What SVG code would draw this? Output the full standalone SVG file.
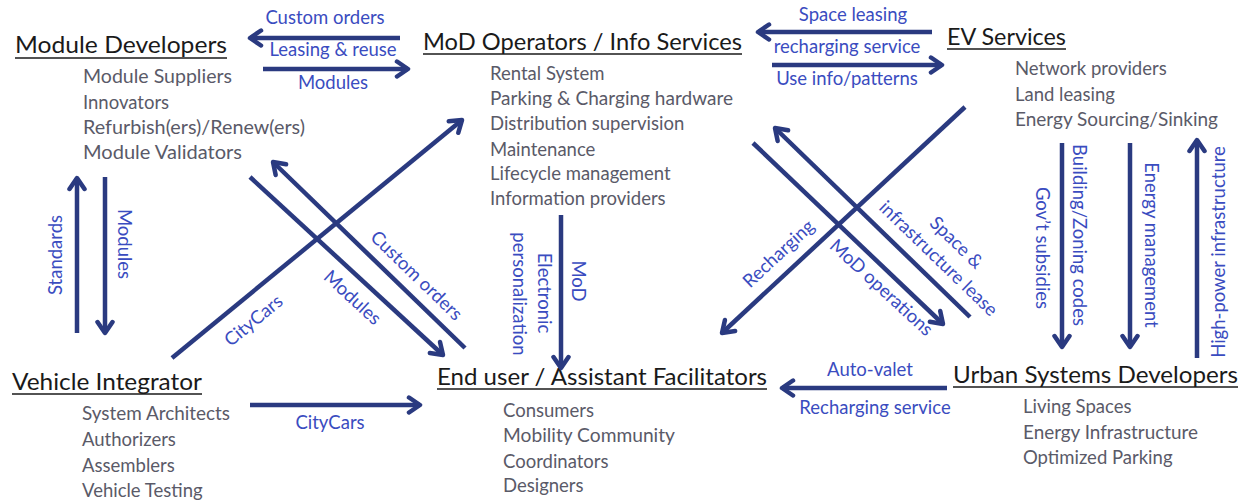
<svg xmlns="http://www.w3.org/2000/svg" width="1248" height="502" viewBox="0 0 1248 502">
<style>
.t{font-family:Lato,"Open Sans","Liberation Sans",sans-serif;font-size:24px;fill:#1a1a1a}
.ul{stroke:#1a1a1a;stroke-width:1.6}
.li{font-family:Lato,"Open Sans","Liberation Sans",sans-serif;font-size:18.5px;fill:#5a5a68}
.lb{font-family:Lato,"Open Sans","Liberation Sans",sans-serif;font-size:18.5px;fill:#3a4cc0}
.c{dominant-baseline:central;text-anchor:middle}
.m{text-anchor:middle}
.ar{stroke:#2a3a80;stroke-width:4.5;fill:none;marker-end:url(#ah)}
</style>
<defs>
<marker id="ah" viewBox="0 0 20 20" refX="17" refY="10" markerWidth="20" markerHeight="20" orient="auto" markerUnits="userSpaceOnUse">
<path d="M6,2.5 L17,10 L6,17.5" fill="none" stroke="#2a3a80" stroke-width="4.5" stroke-linecap="round" stroke-linejoin="round"/>
</marker>
</defs>
<rect width="1248" height="502" fill="#ffffff"/>

<g id="module-developers">
<text class="t" x="15" y="53" textLength="212" lengthAdjust="spacingAndGlyphs">Module Developers</text>
<line class="ul" x1="15" y1="58" x2="227" y2="58"/>
<text class="li" x="83" y="83" textLength="149" lengthAdjust="spacingAndGlyphs">Module Suppliers</text>
<text class="li" x="83" y="109">Innovators</text>
<text class="li" x="83" y="134" textLength="222" lengthAdjust="spacingAndGlyphs">Refurbish(ers)/Renew(ers)</text>
<text class="li" x="83" y="159" textLength="159" lengthAdjust="spacingAndGlyphs">Module Validators</text>
</g>

<g id="mod-operators">
<text class="t" x="423" y="50" textLength="319" lengthAdjust="spacingAndGlyphs">MoD Operators / Info Services</text>
<line class="ul" x1="423" y1="54" x2="742" y2="54"/>
<text class="li" x="490" y="80">Rental System</text>
<text class="li" x="490" y="105" textLength="243" lengthAdjust="spacingAndGlyphs">Parking &amp; Charging hardware</text>
<text class="li" x="490" y="130">Distribution supervision</text>
<text class="li" x="490" y="156">Maintenance</text>
<text class="li" x="490" y="180">Lifecycle management</text>
<text class="li" x="490" y="205">Information providers</text>
</g>

<g id="ev-services">
<text class="t" x="947" y="45" textLength="119" lengthAdjust="spacingAndGlyphs">EV Services</text>
<line class="ul" x1="947" y1="49" x2="1066" y2="49"/>
<text class="li" x="1015" y="75">Network providers</text>
<text class="li" x="1015" y="101">Land leasing</text>
<text class="li" x="1015" y="126" textLength="203" lengthAdjust="spacingAndGlyphs">Energy Sourcing/Sinking</text>
</g>

<g id="vehicle-integrator">
<text class="t" x="12" y="390" textLength="190" lengthAdjust="spacingAndGlyphs">Vehicle Integrator</text>
<line class="ul" x1="12" y1="394" x2="202" y2="394"/>
<text class="li" x="82" y="420" textLength="148" lengthAdjust="spacingAndGlyphs">System Architects</text>
<text class="li" x="82" y="446">Authorizers</text>
<text class="li" x="82" y="472">Assemblers</text>
<text class="li" x="82" y="497">Vehicle Testing</text>
</g>

<g id="end-user">
<text class="t" x="437" y="385" textLength="330" lengthAdjust="spacingAndGlyphs">End user / Assistant  Facilitators</text>
<line class="ul" x1="437" y1="389" x2="767" y2="389"/>
<text class="li" x="503" y="417">Consumers</text>
<text class="li" x="503" y="442" textLength="172" lengthAdjust="spacingAndGlyphs">Mobility Community</text>
<text class="li" x="503" y="468">Coordinators</text>
<text class="li" x="503" y="492">Designers</text>
</g>

<g id="urban-systems">
<text class="t" x="953" y="383" textLength="285" lengthAdjust="spacingAndGlyphs">Urban Systems Developers</text>
<line class="ul" x1="953" y1="387" x2="1238" y2="387"/>
<text class="li" x="1023" y="413">Living Spaces</text>
<text class="li" x="1023" y="439" textLength="175" lengthAdjust="spacingAndGlyphs">Energy Infrastructure</text>
<text class="li" x="1023" y="464">Optimized Parking</text>
</g>

<g id="connectors">
<line class="ar" x1="400" y1="38" x2="250" y2="38"/>
<line class="ar" x1="263" y1="69" x2="408" y2="69"/>
<line class="ar" x1="932" y1="32" x2="758" y2="32"/>
<line class="ar" x1="772" y1="65" x2="942" y2="65"/>
<line class="ar" x1="77" y1="333" x2="77" y2="178"/>
<line class="ar" x1="105" y1="177" x2="105" y2="333"/>
<line class="ar" x1="561" y1="215" x2="561" y2="368"/>
<line class="ar" x1="172" y1="358" x2="462" y2="120"/>
<line class="ar" x1="250" y1="177" x2="443" y2="355"/>
<line class="ar" x1="465" y1="348" x2="273" y2="162"/>
<line class="ar" x1="965" y1="107" x2="722" y2="333"/>
<line class="ar" x1="753" y1="143" x2="943" y2="324"/>
<line class="ar" x1="970" y1="317" x2="775" y2="128"/>
<line class="ar" x1="1062" y1="143" x2="1062" y2="347"/>
<line class="ar" x1="1130" y1="143" x2="1130" y2="347"/>
<line class="ar" x1="1197" y1="358" x2="1197" y2="140"/>
<line class="ar" x1="250" y1="405" x2="420" y2="405"/>
<line class="ar" x1="947" y1="388" x2="782" y2="388"/>

<text class="lb m" x="325" y="24">Custom orders</text>
<text class="lb m" x="333" y="56">Leasing &amp; reuse</text>
<text class="lb m" x="333" y="89">Modules</text>
<text class="lb m" x="853" y="21">Space leasing</text>
<text class="lb m" x="847" y="53">recharging service</text>
<text class="lb m" x="847" y="85">Use info/patterns</text>
<text class="lb m" x="330" y="429">CityCars</text>
<text class="lb m" x="870" y="376">Auto-valet</text>
<text class="lb m" x="875" y="414">Recharging service</text>

<text class="lb c" transform="translate(55,255) rotate(-90)">Standards</text>
<text class="lb c" transform="translate(125,244) rotate(90)">Modules</text>
<text class="lb c" transform="translate(579,281) rotate(90)">MoD</text>
<text class="lb c" transform="translate(545,293) rotate(90)">Electronic</text>
<text class="lb c" transform="translate(520,294) rotate(90)">personalization</text>
<text class="lb c" transform="translate(1080,235) rotate(90)">Building/Zoning codes</text>
<text class="lb c" transform="translate(1043,248) rotate(90)">Gov’t subsidies</text>
<text class="lb c" transform="translate(1152,245) rotate(90)">Energy management</text>
<text class="lb c" transform="translate(1218,252) rotate(-90)">High-power infrastructure</text>

<text class="lb c" transform="translate(253,320) rotate(-39.4)">CityCars</text>
<text class="lb c" transform="translate(353,297) rotate(42.7)">Modules</text>
<text class="lb c" transform="translate(417,275) rotate(44)">Custom orders</text>
<text class="lb c" transform="translate(778,253) rotate(-42.9)">Recharging</text>
<text class="lb c" transform="translate(882,287) rotate(42.7)">MoD operations</text>
<text class="lb c" transform="translate(957,242) rotate(44)">Space &amp;</text>
<text class="lb c" transform="translate(939,258) rotate(44)">infrastructure lease</text>
</g>
</svg>
